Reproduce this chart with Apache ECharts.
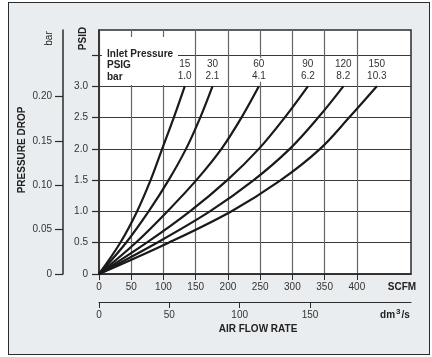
<!DOCTYPE html>
<html>
<head>
<meta charset="utf-8">
<script src="https://cdn.jsdelivr.net/npm/echarts@6/dist/echarts.min.js"></script>
<style>
  html, body { margin: 0; padding: 0; background: #fff; }
  #frame { position: absolute; left: 8px; top: 2px; width: 420px; height: 351px;
           border: 1.5px solid #2b2b2b; background: #e9edf0; }
  #chart { position: absolute; left: 0; top: 0; width: 432px; height: 357px; }
</style>
</head>
<body>
<div id="frame"></div>
<div id="chart"></div>
<script>
// pressure drop (PSID) at each horizontal grid line
const psidLevels = [0, 0.5, 1.0, 1.5, 2.0, 2.5, 3.0];
// air flow (SCFM) where each inlet-pressure curve crosses those levels
const scfm15  = [0, 33, 59, 80, 98, 116, 133];
const scfm30  = [0, 42, 77, 108, 135, 157, 176];
const scfm60  = [0, 57, 106, 151, 190, 221, 248];
const scfm90  = [0, 74, 141, 199, 248, 288, 324];
const scfm120 = [0, 90, 172, 240, 296, 340, 379];
const scfm150 = [0, 108, 205, 282, 343, 388, 431];
const inletPsig = ['15', '30', '60', '90', '120', '150'];
const inletBar  = ['1.0', '2.1', '4.1', '6.2', '8.2', '10.3'];

// tick values
const psidTicks  = [0, 0.5, 1.0, 1.5, 2.0, 2.5, 3.0, 3.5];
const psidLabels = [0, 0.5, 1.0, 1.5, 2.0, 2.5, 3.0];
const barTicks   = [0, 0.05, 0.10, 0.15, 0.20];
const scfmTicks  = [0, 50, 100, 150, 200, 250, 300, 350, 400];
const dm3Ticks   = [0, 50, 100, 150];

const curves = [scfm15, scfm30, scfm60, scfm90, scfm120, scfm150];
const FONT = '"Liberation Sans", Arial, sans-serif';
const DARK = '#2b2b2b';
const LABEL = '#333';

const chart = echarts.init(document.getElementById('chart'));

const series = curves.map((flows, i) => ({
  type: 'line',
  z: 10,
  smooth: 0.35,
  symbol: 'circle',
  symbolSize: 1,
  showSymbol: true,
  lineStyle: { color: '#1a1a1a', width: 2.2 },
  itemStyle: { color: '#1a1a1a' },
  emphasis: { disabled: true },
  data: flows.map((f, j) => {
    if (j < flows.length - 1) return [f, psidLevels[j]];
    return {
      value: [f, psidLevels[j]],
      label: {
        show: true,
        position: 'top',
        distance: 4,
        formatter: inletPsig[i] + '\n' + inletBar[i],
        color: LABEL,
        fontSize: 10,
        lineHeight: 12,
        fontFamily: FONT,
        backgroundColor: '#fff',
        padding: [0, 1],
        align: 'center'
      }
    };
  })
}));

const axisLabelStyle = { color: LABEL, fontSize: 10, fontFamily: FONT };

const option = {
  animation: false,
  textStyle: { fontFamily: FONT },
  grid: {
    left: 99, right: 21, top: 30, bottom: 83,
    show: true, backgroundColor: '#fff',
    borderColor: DARK, borderWidth: 1.5,
    outerBoundsMode: 'none'
  },
  xAxis: [
    {
      // SCFM
      type: 'value', min: 0, max: 484, position: 'bottom',
      axisLine: { show: true, onZero: false, lineStyle: { color: DARK, width: 1.5 } },
      axisTick: { show: true, length: 6, customValues: scfmTicks, lineStyle: { color: DARK, width: 1 } },
      axisLabel: Object.assign({ customValues: scfmTicks, margin: 8 }, axisLabelStyle),
      splitLine: { show: true, lineStyle: { color: '#666', width: 1.2 } }
    },
    {
      // dm3/s
      type: 'value', min: 0, max: 221.8, position: 'bottom', offset: 28,
      axisLine: { show: true, onZero: false, lineStyle: { color: DARK, width: 1.2 } },
      axisTick: { show: true, length: 6, customValues: dm3Ticks, lineStyle: { color: DARK, width: 1 } },
      axisLabel: Object.assign({ customValues: dm3Ticks, margin: 8 }, axisLabelStyle),
      splitLine: { show: false }
    }
  ],
  yAxis: [
    {
      // PSID
      type: 'value', min: 0, max: 3.9, position: 'left',
      axisLine: { show: true, onZero: false, lineStyle: { color: DARK, width: 1.5 } },
      axisTick: { show: true, length: 7, customValues: psidTicks, lineStyle: { color: DARK, width: 1.2 } },
      axisLabel: Object.assign({
        customValues: psidLabels, margin: 11,
        formatter: v => (v === 0 ? '0' : v.toFixed(1))
      }, axisLabelStyle),
      splitLine: { show: true, lineStyle: { color: '#383838', width: 1.2 } }
    },
    {
      // bar
      type: 'value', min: 0, max: 0.275, position: 'left', offset: 36,
      axisLine: { show: true, onZero: false, lineStyle: { color: DARK, width: 1.5 } },
      axisTick: { show: true, length: 8, customValues: barTicks, lineStyle: { color: DARK, width: 1.2 } },
      axisLabel: Object.assign({
        customValues: barTicks, margin: 11,
        formatter: v => (v === 0 ? '0' : v.toFixed(2))
      }, axisLabelStyle),
      splitLine: { show: false }
    }
  ],
  graphic: [
    // white patch behind the inlet pressure heading
    { type: 'rect', z: 5, shape: { x: 102, y: 37, width: 76, height: 48 }, style: { fill: '#fff' } },
    { type: 'text', z: 6, x: 107, y: 54, style: { text: 'Inlet Pressure', font: 'bold 10px ' + FONT, fill: '#222', textVerticalAlign: 'middle' } },
    { type: 'text', z: 6, x: 107, y: 65, style: { text: 'PSIG', font: 'bold 10px ' + FONT, fill: '#222', textVerticalAlign: 'middle' } },
    { type: 'text', z: 6, x: 107, y: 77, style: { text: 'bar', font: 'bold 10px ' + FONT, fill: '#222', textVerticalAlign: 'middle' } },
    // axis titles
    { type: 'text', z: 6, x: 22, y: 150, rotation: Math.PI / 2, style: { text: 'PRESSURE DROP', font: 'bold 10px ' + FONT, fill: '#222', textAlign: 'center', textVerticalAlign: 'middle' } },
    { type: 'text', z: 6, x: 49, y: 38.5, rotation: Math.PI / 2, style: { text: 'bar', font: '10px ' + FONT, fill: '#222', textAlign: 'center', textVerticalAlign: 'middle' } },
    { type: 'text', z: 6, x: 83, y: 38.5, rotation: Math.PI / 2, style: { text: 'PSID', font: 'bold 10px ' + FONT, fill: '#222', textAlign: 'center', textVerticalAlign: 'middle' } },
    { type: 'text', z: 6, x: 402, y: 287, style: { text: 'SCFM', font: 'bold 10px ' + FONT, fill: '#222', textAlign: 'center', textVerticalAlign: 'middle' } },
    {
      type: 'text', z: 6, x: 395, y: 315,
      style: {
        text: 'dm{s|3}/s', font: 'bold 10px ' + FONT, fill: '#222', textAlign: 'center', textVerticalAlign: 'middle',
        rich: { s: { fontSize: 8, fontWeight: 'bold', fontFamily: FONT, fill: '#222', padding: [0, 1, 6, 1] } }
      }
    },
    { type: 'text', z: 6, x: 258, y: 329, style: { text: 'AIR FLOW RATE', font: 'bold 10px ' + FONT, fill: '#222', textAlign: 'center', textVerticalAlign: 'middle' } }
  ],
  series: series
};

chart.setOption(option);
</script>
</body>
</html>
